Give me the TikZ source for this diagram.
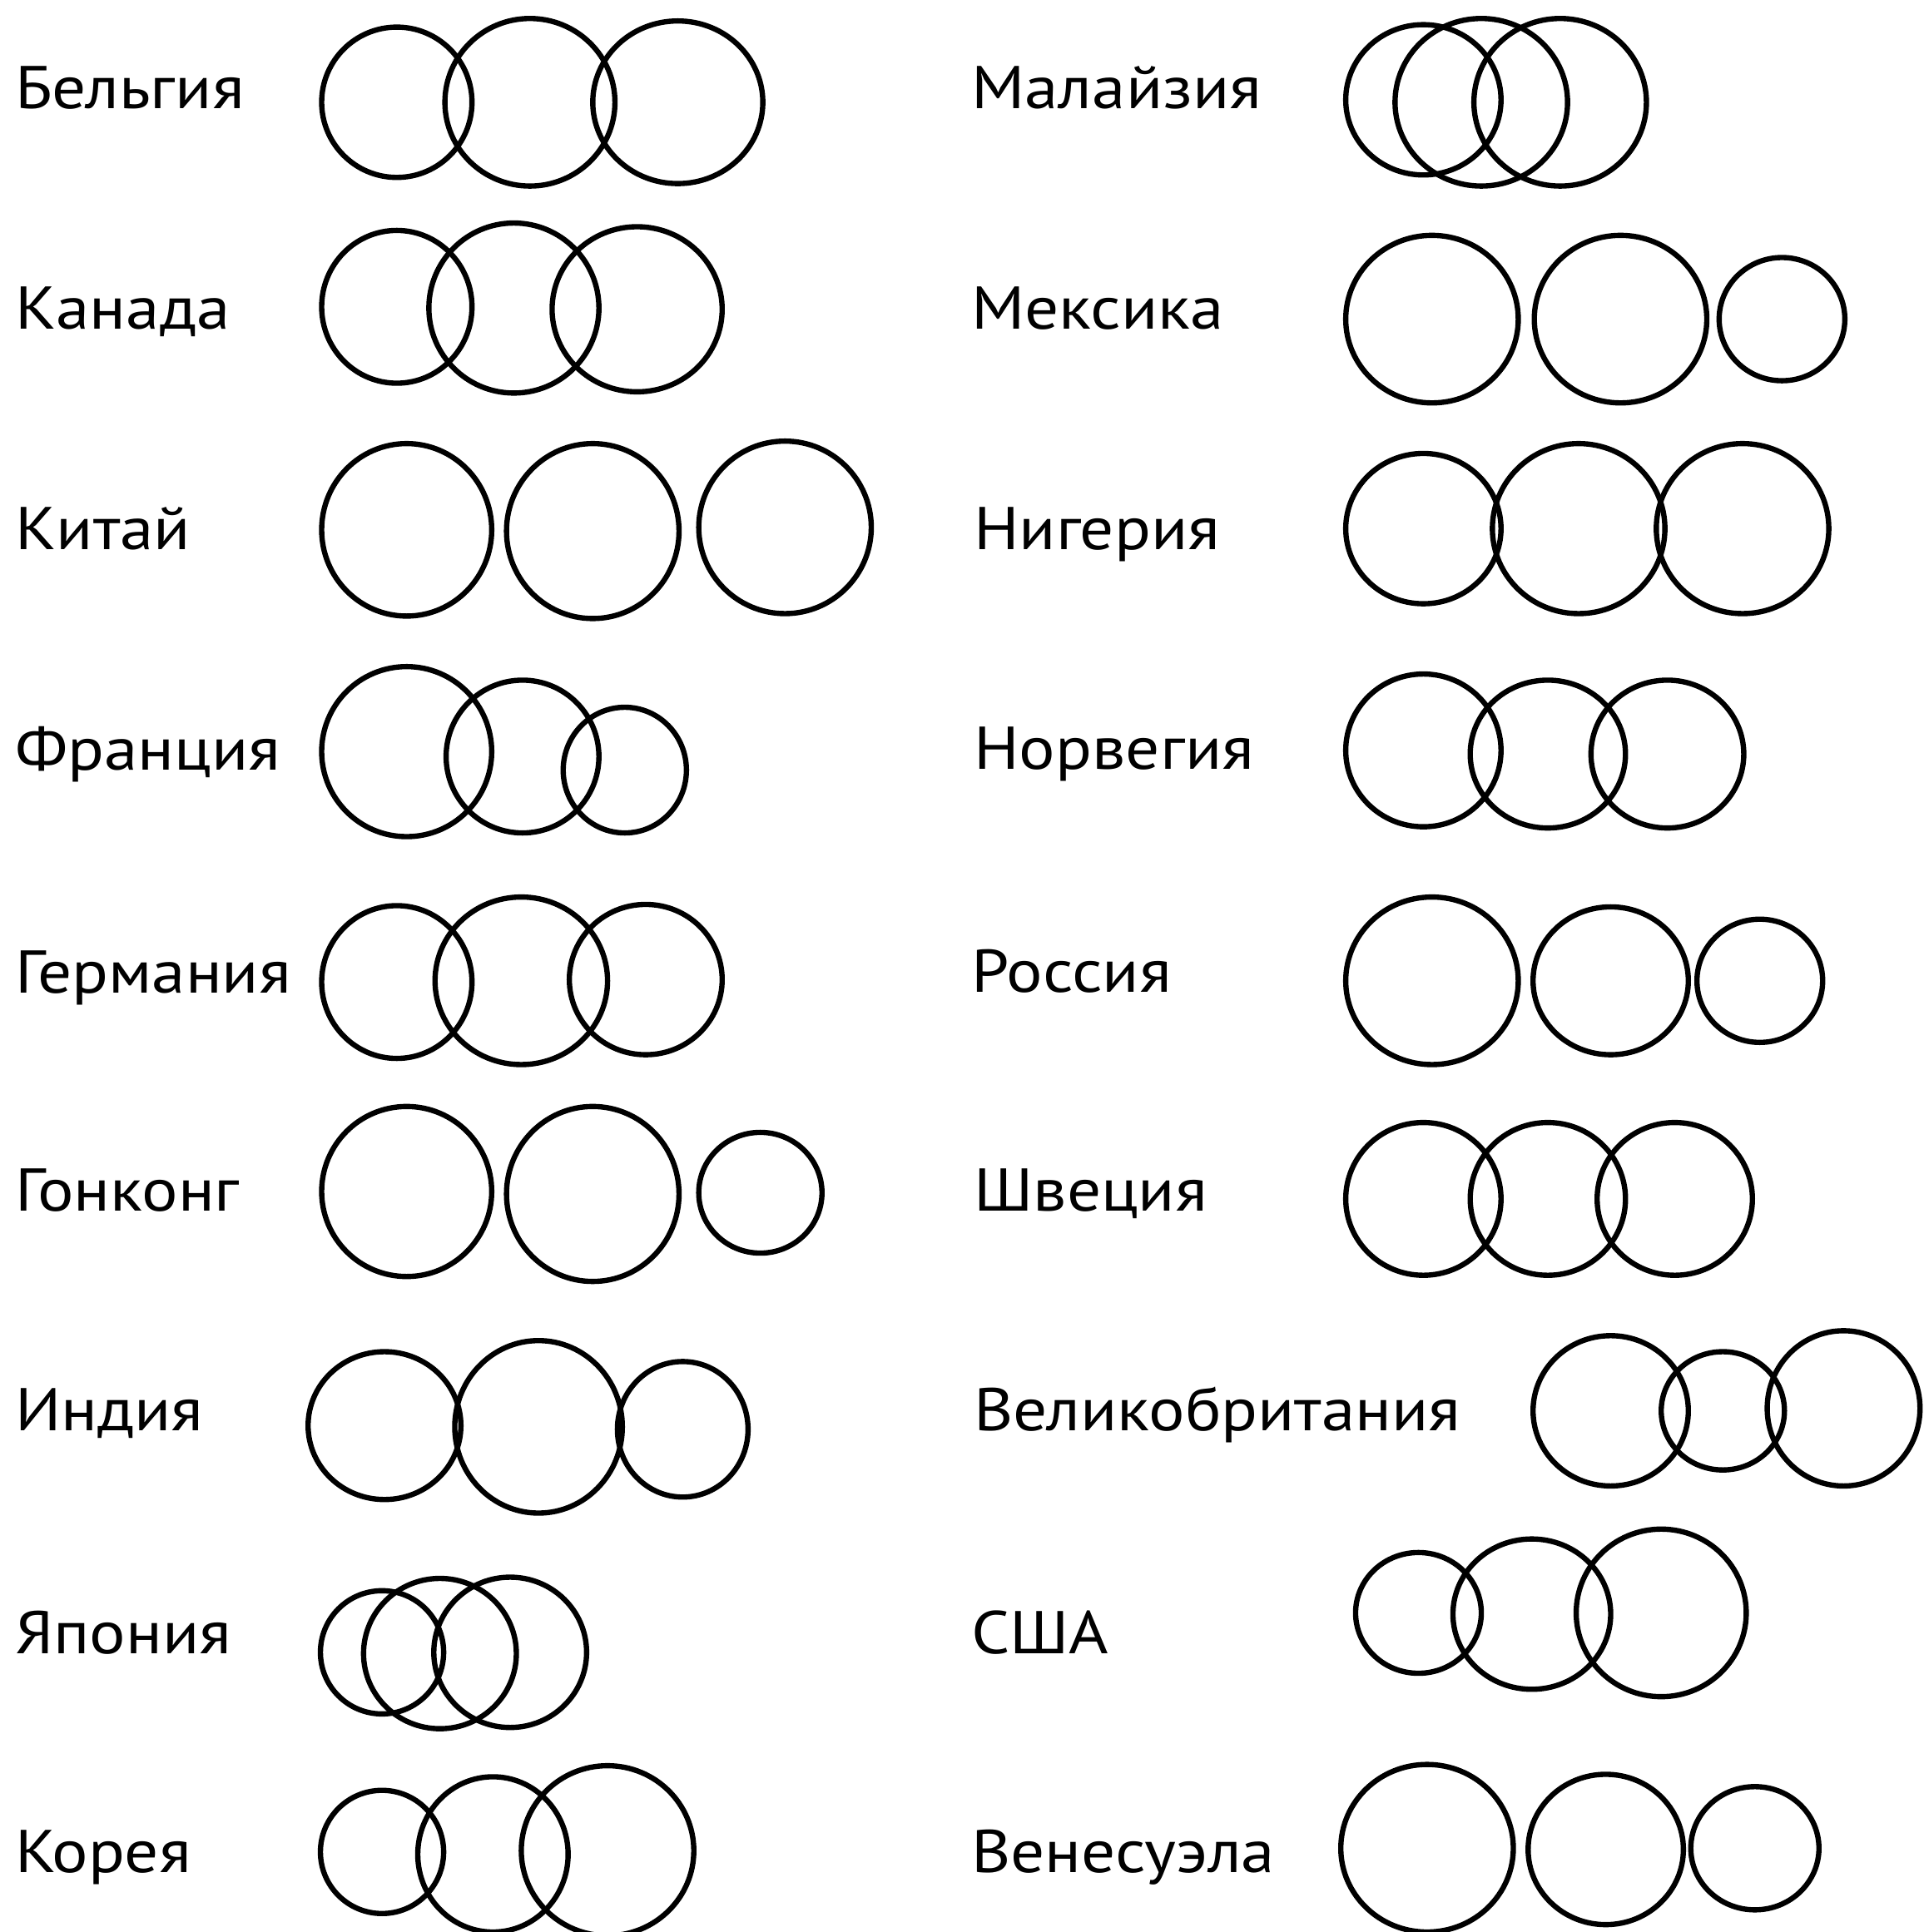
\documentclass[tikz,border=0pt]{standalone}
\usepackage{fontspec}
\setmainfont{PT Sans}[FakeStretch=1.12]
\begin{document}
\begin{tikzpicture}[x=1pt,y=1pt,
  ring/.style={draw=black,line width=4.3pt},
  label/.style={anchor=base west,inner sep=0pt,font=\fontsize{49}{55}\selectfont}]
\useasboundingbox (0,0) rectangle (1561,-1568);
% labels, left column
\node[label] (belgium) at (12,-88) {Бельгия};
\node[label] (canada) at (12,-267) {Канада};
\node[label] (china) at (12,-446) {Китай};
\node[label] (france) at (12,-625) {Франция};
\node[label] (germany) at (12,-806) {Германия};
\node[label] (hongkong) at (12,-983) {Гонконг};
\node[label] (india) at (12,-1161) {Индия};
\node[label] (japan) at (12,-1342) {Япония};
\node[label] (korea) at (12,-1520) {Корея};
% labels, right column
\node[label] (malaysia) at (788,-88) {Малайзия};
\node[label] (mexico) at (788,-267) {Мексика};
\node[label] (nigeria) at (790,-446) {Нигерия};
\node[label] (norway) at (790,-624) {Норвегия};
\node[label] (russia) at (788,-805) {Россия};
\node[label] (sweden) at (790,-983) {Швеция};
\node[label] (uk) at (790,-1161) {Великобритания};
\node[label] (usa) at (788,-1342) {США};
\node[label] (venezuela) at (788,-1520) {Венесуэла};
% circles, left column
\draw[ring] (322,-83) ellipse [x radius=61,y radius=61];
\draw[ring] (430,-83) ellipse [x radius=69,y radius=68];
\draw[ring] (550,-83) ellipse [x radius=69,y radius=66];
\draw[ring] (322,-249) ellipse [x radius=61,y radius=62];
\draw[ring] (417,-250) ellipse [x radius=69,y radius=69];
\draw[ring] (517,-251) ellipse [x radius=69,y radius=67];
\draw[ring] (330,-430) ellipse [x radius=69,y radius=70];
\draw[ring] (481,-431) ellipse [x radius=70,y radius=71];
\draw[ring] (637,-428) ellipse [x radius=70,y radius=70];
\draw[ring] (330,-610) ellipse [x radius=69,y radius=69];
\draw[ring] (424,-614) ellipse [x radius=62,y radius=62];
\draw[ring] (507,-625) ellipse [x radius=50,y radius=51];
\draw[ring] (322,-797) ellipse [x radius=61,y radius=62];
\draw[ring] (423,-796) ellipse [x radius=70,y radius=68];
\draw[ring] (524,-795) ellipse [x radius=62,y radius=61];
\draw[ring] (330,-967) ellipse [x radius=69,y radius=69];
\draw[ring] (481,-969) ellipse [x radius=70,y radius=71];
\draw[ring] (617,-968) ellipse [x radius=50,y radius=49];
\draw[ring] (312,-1157) ellipse [x radius=62,y radius=60];
\draw[ring] (437,-1158) ellipse [x radius=68,y radius=70];
\draw[ring] (554,-1160) ellipse [x radius=53,y radius=55];
\draw[ring] (310,-1341) ellipse [x radius=50,y radius=50];
\draw[ring] (357,-1342) ellipse [x radius=62,y radius=61];
\draw[ring] (414,-1341) ellipse [x radius=62,y radius=61];
\draw[ring] (310,-1503) ellipse [x radius=50,y radius=50];
\draw[ring] (400,-1505) ellipse [x radius=61,y radius=63];
\draw[ring] (493,-1502) ellipse [x radius=70,y radius=69];
% circles, right column
\draw[ring] (1155,-81) ellipse [x radius=63,y radius=61];
\draw[ring] (1202,-83) ellipse [x radius=70,y radius=68];
\draw[ring] (1266,-83) ellipse [x radius=70,y radius=68];
\draw[ring] (1162,-259) ellipse [x radius=70,y radius=68];
\draw[ring] (1315,-259) ellipse [x radius=70,y radius=68];
\draw[ring] (1446,-259) ellipse [x radius=51,y radius=50];
\draw[ring] (1155,-429) ellipse [x radius=63,y radius=61];
\draw[ring] (1281,-429) ellipse [x radius=70,y radius=69];
\draw[ring] (1414,-429) ellipse [x radius=70,y radius=69];
\draw[ring] (1155,-609) ellipse [x radius=63,y radius=62];
\draw[ring] (1256,-612) ellipse [x radius=63,y radius=60];
\draw[ring] (1353,-612) ellipse [x radius=62,y radius=60];
\draw[ring] (1162,-796) ellipse [x radius=70,y radius=68];
\draw[ring] (1307,-796) ellipse [x radius=63,y radius=60];
\draw[ring] (1428,-796) ellipse [x radius=51,y radius=50];
\draw[ring] (1155,-973) ellipse [x radius=63,y radius=62];
\draw[ring] (1256,-973) ellipse [x radius=63,y radius=62];
\draw[ring] (1359,-973) ellipse [x radius=63,y radius=62];
\draw[ring] (1307,-1145) ellipse [x radius=63,y radius=61];
\draw[ring] (1398,-1145) ellipse [x radius=50,y radius=48];
\draw[ring] (1496,-1143) ellipse [x radius=62,y radius=63];
\draw[ring] (1151,-1309) ellipse [x radius=51,y radius=49];
\draw[ring] (1243,-1310) ellipse [x radius=64,y radius=61];
\draw[ring] (1348,-1309) ellipse [x radius=69,y radius=68];
\draw[ring] (1158,-1500) ellipse [x radius=70,y radius=68];
\draw[ring] (1303,-1501) ellipse [x radius=63,y radius=61];
\draw[ring] (1424,-1500) ellipse [x radius=52,y radius=50];
\end{tikzpicture}
\end{document}
